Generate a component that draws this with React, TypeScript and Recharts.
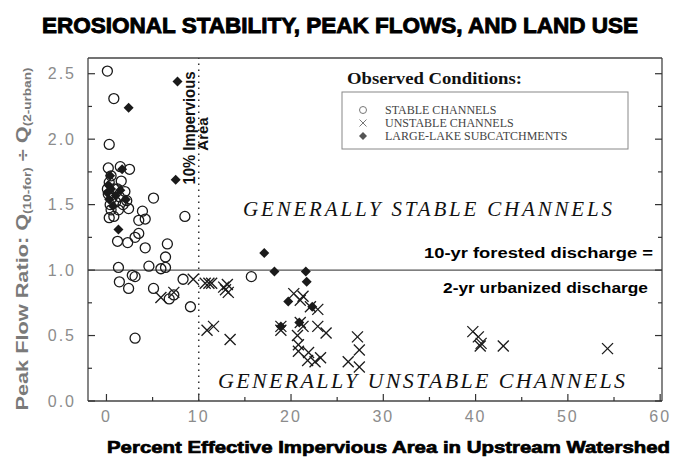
import { ScatterChart, Scatter, XAxis, YAxis, ReferenceLine, Legend } from "recharts";

const INK = "#1a1a1a";
const FRAME = "#444";
const TICK_GRAY = "#8c8c8c";
const SANS = "'Liberation Sans', Arial, sans-serif";
const SERIF = "'Liberation Serif', 'Times New Roman', serif";

// series names, in legend order
const seriesNames = ["STABLE CHANNELS", "UNSTABLE CHANNELS", "LARGE-LAKE SUBCATCHMENTS"];

// stable channels (open circles)
const stablePoints = [
  { x: 0.1, y: 2.52 }, { x: 0.8, y: 2.31 }, { x: 0.3, y: 1.96 }, { x: 1.5, y: 1.79 },
  { x: 2.5, y: 1.77 }, { x: 5.1, y: 1.55 }, { x: 8.5, y: 1.41 }, { x: 0.3, y: 1.4 },
  { x: 0.8, y: 1.41 }, { x: 1.3, y: 1.46 }, { x: 2.4, y: 1.47 }, { x: 3.9, y: 1.45 },
  { x: 3.5, y: 1.38 }, { x: 4.2, y: 1.39 }, { x: 3.5, y: 1.28 }, { x: 3.1, y: 1.25 },
  { x: 1.2, y: 1.22 }, { x: 2.3, y: 1.21 }, { x: 4.2, y: 1.17 }, { x: 6.6, y: 1.2 },
  { x: 6.4, y: 1.1 }, { x: 1.3, y: 1.02 }, { x: 4.6, y: 1.03 }, { x: 5.9, y: 1.01 },
  { x: 6.4, y: 1.02 }, { x: 0.2, y: 1.78 }, { x: 0.5, y: 1.72 }, { x: 0.3, y: 1.67 },
  { x: 0.8, y: 1.62 }, { x: 0.2, y: 1.58 }, { x: 0.6, y: 1.55 }, { x: 1.0, y: 1.52 },
  { x: 0.4, y: 1.5 }, { x: 1.4, y: 1.56 }, { x: 1.8, y: 1.5 }, { x: 1.2, y: 1.62 },
  { x: 0.1, y: 1.62 }, { x: 2.0, y: 1.6 }, { x: 1.6, y: 1.68 }, { x: 0.5, y: 1.46 },
  { x: 2.2, y: 1.53 }, { x: 1.4, y: 0.91 }, { x: 2.4, y: 0.86 }, { x: 2.8, y: 0.96 },
  { x: 3.1, y: 0.95 }, { x: 5.1, y: 0.86 }, { x: 6.8, y: 0.78 }, { x: 7.3, y: 0.81 },
  { x: 9.1, y: 0.72 }, { x: 8.3, y: 0.93 }, { x: 3.1, y: 0.48 }, { x: 15.7, y: 0.95 },
];

// unstable channels (crosses)
const unstablePoints = [
  { x: 9.4, y: 0.93 }, { x: 10.7, y: 0.9 }, { x: 11.1, y: 0.9 }, { x: 11.4, y: 0.9 },
  { x: 5.9, y: 0.79 }, { x: 7.3, y: 0.83 }, { x: 10.9, y: 0.54 }, { x: 11.6, y: 0.57 },
  { x: 12.7, y: 0.87 }, { x: 13.2, y: 0.83 }, { x: 13.1, y: 0.89 }, { x: 12.9, y: 0.85 },
  { x: 13.4, y: 0.47 }, { x: 18.9, y: 0.57 }, { x: 18.9, y: 0.54 }, { x: 20.3, y: 0.82 },
  { x: 21.0, y: 0.77 }, { x: 21.3, y: 0.8 }, { x: 22.1, y: 0.72 }, { x: 22.9, y: 0.7 },
  { x: 21.0, y: 0.6 }, { x: 21.3, y: 0.57 }, { x: 20.7, y: 0.5 }, { x: 22.9, y: 0.57 },
  { x: 23.8, y: 0.52 }, { x: 20.8, y: 0.43 }, { x: 20.8, y: 0.38 }, { x: 21.9, y: 0.37 },
  { x: 21.8, y: 0.31 }, { x: 22.6, y: 0.3 }, { x: 23.2, y: 0.33 }, { x: 26.2, y: 0.3 },
  { x: 27.2, y: 0.49 }, { x: 27.4, y: 0.39 }, { x: 27.4, y: 0.26 }, { x: 39.7, y: 0.53 },
  { x: 40.3, y: 0.49 }, { x: 40.5, y: 0.42 }, { x: 40.6, y: 0.44 }, { x: 43.0, y: 0.42 },
  { x: 54.3, y: 0.4 },
];

// large-lake subcatchments (filled diamonds)
const lakePoints = [
  { x: 7.7, y: 2.44 }, { x: 2.4, y: 2.24 }, { x: 7.5, y: 1.69 }, { x: 1.3, y: 1.31 },
  { x: 1.7, y: 1.77 }, { x: 0.4, y: 1.72 }, { x: 0.2, y: 1.65 }, { x: 0.1, y: 1.59 },
  { x: 0.3, y: 1.54 }, { x: 0.7, y: 1.49 }, { x: 1.0, y: 1.57 }, { x: 1.5, y: 1.61 },
  { x: 2.1, y: 1.54 }, { x: 0.5, y: 1.62 }, { x: 17.1, y: 1.13 }, { x: 18.2, y: 0.99 },
  { x: 21.6, y: 0.99 }, { x: 21.7, y: 0.91 }, { x: 19.7, y: 0.76 }, { x: 22.3, y: 0.72 },
  { x: 18.9, y: 0.57 }, { x: 20.9, y: 0.6 },
];

const xMajorTicks = [0, 10, 20, 30, 40, 50, 60];
const xMinorTicks = [5, 15, 25, 35, 45, 55];
const yMajorTicks = [0, 0.5, 1, 1.5, 2, 2.5];
const yMinorTicks = [0.25, 0.75, 1.25, 1.75, 2.25];

const xAllTicks = [...xMajorTicks, ...xMinorTicks].sort((a, b) => a - b);
const yAllTicks = [...yMajorTicks, ...yMinorTicks].sort((a, b) => a - b);

const X_DOMAIN: [number, number] = [-2, 60.2];
const Y_DOMAIN: [number, number] = [0, 2.62];

const TICK_STROKE = "#333";

// tick renderers: inward tick mark (long for major, short for minor) + grey label on bottom/left
const makeXTick = (side: "bottom" | "top") => (props: any) => {
  const { x, y, payload } = props;
  const major = xMajorTicks.includes(payload.value);
  const len = major ? 7 : 4;
  const dir = side === "bottom" ? -1 : 1;
  return (
    <g>
      <line x1={x} y1={y} x2={x} y2={y + dir * len} stroke={TICK_STROKE} strokeWidth={1.2} />
      {side === "bottom" && major && (
        <text x={x} y={y + 10} dy="0.71em" textAnchor="middle" fill={TICK_GRAY} fontSize={16}
          fontFamily={SANS} letterSpacing={2}>
          {payload.value}
        </text>
      )}
    </g>
  );
};

const makeYTick = (side: "left" | "right") => (props: any) => {
  const { x, y, payload } = props;
  const major = yMajorTicks.includes(payload.value);
  const len = major ? 7 : 4;
  const dir = side === "left" ? 1 : -1;
  return (
    <g>
      <line x1={x} y1={y} x2={x + dir * len} y2={y} stroke={TICK_STROKE} strokeWidth={1.2} />
      {side === "left" && major && (
        <text x={x - 12} y={y} dy="0.355em" textAnchor="end" fill={TICK_GRAY} fontSize={16}
          fontFamily={SANS} letterSpacing={2}>
          {payload.value.toFixed(1)}
        </text>
      )}
    </g>
  );
};

const BottomTick = makeXTick("bottom");
const TopTick = makeXTick("top");
const LeftTick = makeYTick("left");
const RightTick = makeYTick("right");

const OpenCircle = (p: any) => (
  <circle cx={p.cx} cy={p.cy} r={5} fill="none" stroke={INK} strokeWidth={1.3} />
);

const XMark = (p: any) => {
  const s = 5.5;
  return (
    <g stroke={INK} strokeWidth={1.3}>
      <line x1={p.cx - s} y1={p.cy - s} x2={p.cx + s} y2={p.cy + s} />
      <line x1={p.cx - s} y1={p.cy + s} x2={p.cx + s} y2={p.cy - s} />
    </g>
  );
};

const Diamond = (p: any) => {
  const s = 5;
  return (
    <polygon
      points={`${p.cx},${p.cy - s} ${p.cx + s},${p.cy} ${p.cx},${p.cy + s} ${p.cx - s},${p.cy}`}
      fill={INK}
    />
  );
};

function legendMark(name: string, cx: number, cy: number) {
  if (name === seriesNames[0]) return <circle cx={cx} cy={cy} r={3.5} fill="none" stroke="#777" strokeWidth={1} />;
  if (name === seriesNames[1])
    return (
      <g stroke="#777" strokeWidth={1}>
        <line x1={cx - 3.5} y1={cy - 3.5} x2={cx + 3.5} y2={cy + 3.5} />
        <line x1={cx - 3.5} y1={cy + 3.5} x2={cx + 3.5} y2={cy - 3.5} />
      </g>
    );
  return <polygon points={`${cx},${cy - 4} ${cx + 4},${cy} ${cx},${cy + 4} ${cx - 4},${cy}`} fill="#555" />;
}

function LegendBox({ payload }: any) {
  const items = [...(payload || [])].sort(
    (a: any, b: any) => seriesNames.indexOf(a.value) - seriesNames.indexOf(b.value)
  );
  return (
    <svg width={340} height={100} style={{ display: "block" }}>
      <text x={47} y={24} fontFamily={SERIF} fontWeight="bold" fontSize={16} fill="#111" textLength={175} lengthAdjust="spacingAndGlyphs">
        Observed Conditions:
      </text>
      <rect x={42} y={32} width={286} height={57} fill="white" stroke="#888" strokeWidth={1} />
      {items.map((item: any, i: number) => {
        const cy = 50 + i * 13;
        return (
          <g key={`leg-${i}`}>
            {legendMark(item.value, 63, cy)}
            <text x={85} y={cy + 4} fontFamily={SERIF} fontSize={12} fill="#444">
              {item.value}
            </text>
          </g>
        );
      })}
    </svg>
  );
}

export default function App() {
  const frameLine = { stroke: FRAME, strokeWidth: 1.3 };
  return (
    <div style={{ position: "absolute", left: 0, top: 0, width: 673, height: 465, background: "white" }}>
      <ScatterChart width={673} height={465} margin={{ top: 57, right: 10, bottom: 34, left: 48 }}>
        <XAxis xAxisId="b" type="number" dataKey="x" domain={X_DOMAIN} allowDataOverflow ticks={xAllTicks} interval={0}
          height={30} tickLine={false} tickSize={0} tickMargin={0} tick={BottomTick} axisLine={frameLine} />
        <XAxis xAxisId="t" orientation="top" type="number" domain={X_DOMAIN} allowDataOverflow ticks={xAllTicks} interval={0}
          height={1} tickLine={false} tickSize={0} tickMargin={0} tick={TopTick} axisLine={frameLine} />

        <YAxis yAxisId="l" type="number" dataKey="y" domain={Y_DOMAIN} allowDataOverflow ticks={yAllTicks} interval={0}
          width={40} tickLine={false} tickSize={0} tickMargin={0} tick={LeftTick} axisLine={frameLine} />
        <YAxis yAxisId="r" orientation="right" type="number" domain={Y_DOMAIN} allowDataOverflow ticks={yAllTicks} interval={0}
          width={1} tickLine={false} tickSize={0} tickMargin={0} tick={RightTick} axisLine={frameLine} />

        <ReferenceLine xAxisId="b" yAxisId="l" y={1} stroke="#555" strokeWidth={1.3} />
        <ReferenceLine xAxisId="b" yAxisId="l" x={10} stroke="#333" strokeWidth={1.5} strokeDasharray="1.5 4.5" />

        <Scatter name={seriesNames[0]} data={stablePoints} xAxisId="b" yAxisId="l" shape={OpenCircle} isAnimationActive={false} />
        <Scatter name={seriesNames[1]} data={unstablePoints} xAxisId="b" yAxisId="l" shape={XMark} isAnimationActive={false} />
        <Scatter name={seriesNames[2]} data={lakePoints} xAxisId="b" yAxisId="l" shape={Diamond} isAnimationActive={false} />

        <Legend layout="vertical" align="center" verticalAlign="middle" content={LegendBox}
          wrapperStyle={{ left: 300, top: 60, width: 340, height: 100 }} />
      </ScatterChart>

      <svg width={673} height={465} style={{ position: "absolute", left: 0, top: 0, pointerEvents: "none" }}>
        <text x={42} y={33} fontFamily={SANS} fontWeight="bold" fontSize={22} fill="#000" stroke="#000" strokeWidth={0.9}
          textLength={596} lengthAdjust="spacingAndGlyphs">
          EROSIONAL STABILITY, PEAK FLOWS, AND LAND USE
        </text>
        <text x={107} y={453} fontFamily={SANS} fontWeight="bold" fontSize={17} fill="#000" stroke="#000" strokeWidth={0.7}
          textLength={563} lengthAdjust="spacingAndGlyphs">
          Percent Effective Impervious Area in Upstream Watershed
        </text>
        <text x={28} y={239} transform="rotate(-90 28 239)" textAnchor="middle" fontFamily={SANS} fontWeight="bold"
          fontSize={16} fill="#7a7a7a" textLength={343} lengthAdjust="spacingAndGlyphs">
          Peak Flow Ratio: Q<tspan fontSize={10} dy={3}>(10-for)</tspan><tspan dy={-3}> ÷ Q</tspan>
          <tspan fontSize={10} dy={3}>(2-urban)</tspan>
        </text>
        <text x={195} y={128} transform="rotate(-90 195 128)" textAnchor="middle" fontFamily={SANS} fontWeight="bold"
          fontSize={16} fill="#111" textLength={113} lengthAdjust="spacingAndGlyphs">
          10% Impervious
        </text>
        <text x={208} y={134} transform="rotate(-90 208 134)" textAnchor="middle" fontFamily={SANS} fontWeight="bold"
          fontSize={15} fill="#111">
          Area
        </text>
        <text x={243} y={216} fontFamily={SERIF} fontStyle="italic" fontSize={21} fill="#111"
          textLength={369} lengthAdjust="spacing">
          GENERALLY STABLE CHANNELS
        </text>
        <text x={218} y={388} fontFamily={SERIF} fontStyle="italic" fontSize={22} fill="#111"
          textLength={407} lengthAdjust="spacing">
          GENERALLY UNSTABLE CHANNELS
        </text>
        <text x={424} y={258} fontFamily={SANS} fontWeight="bold" fontSize={14} fill="#000"
          textLength={229} lengthAdjust="spacingAndGlyphs">
          10-yr forested discharge =
        </text>
        <text x={443} y={293} fontFamily={SANS} fontWeight="bold" fontSize={14} fill="#000"
          textLength={205} lengthAdjust="spacingAndGlyphs">
          2-yr urbanized discharge
        </text>
      </svg>
    </div>
  );
}
